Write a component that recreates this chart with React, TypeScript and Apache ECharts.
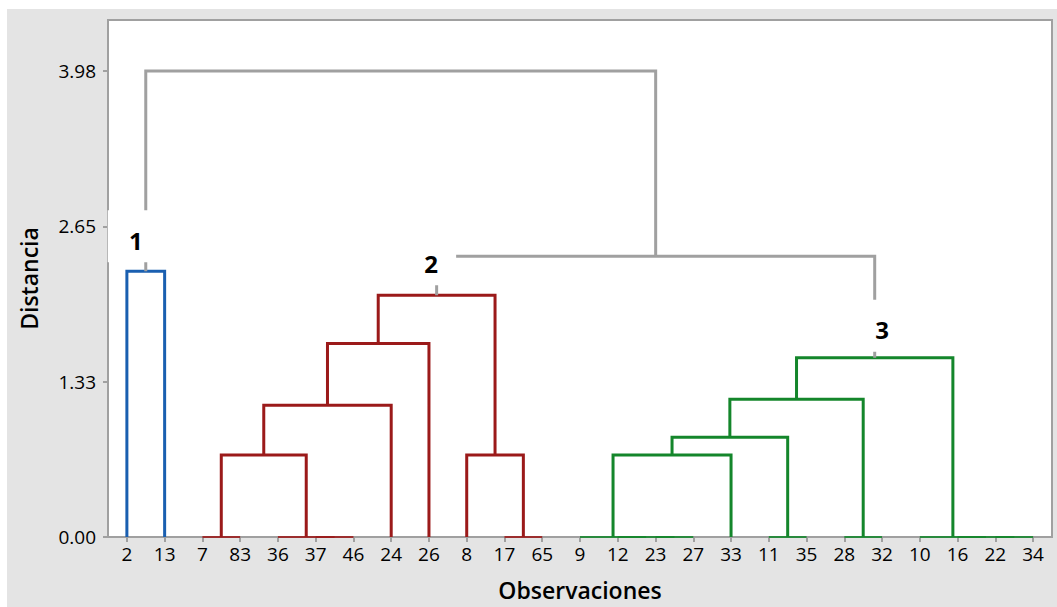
import React, { useEffect, useRef } from "react";
import * as echarts from "echarts";

// Leaves (observations) in dendrogram order
const leaves = ["2", "13", "7", "83", "36", "37", "46", "24", "26", "8", "17", "65", "9", "12", "23", "27", "33", "11", "35", "28", "32", "10", "16", "22", "34"];

// Merges: node ids < 25 are leaves (index into leaves), ids >= 25 are merges in creation order
const mergeLeft = [0, 2, 5, 4, 26, 29, 30, 10, 9, 31, 14, 13, 12, 37, 17, 38, 19, 40, 23, 22, 21, 42, 34, 25];
const mergeRight = [1, 3, 6, 27, 28, 7, 8, 11, 32, 33, 15, 35, 36, 16, 18, 39, 20, 41, 24, 43, 44, 45, 46, 47];
const mergeHeight = [2.27, 0, 0, 0, 0.7, 1.126, 1.652, 0, 0.7, 2.064, 0, 0, 0, 0.7, 0, 0.851, 0, 1.177, 0, 0, 0, 1.53, 2.398, 3.98];
// 0 = gray link, 1 = cluster 1, 2 = cluster 2, 3 = cluster 3
const mergeCluster = [1, 2, 2, 2, 2, 2, 2, 2, 2, 2, 3, 3, 3, 3, 3, 3, 3, 3, 3, 3, 3, 3, 0, 0];

// Cluster labels and the nodes they sit on
const clusterLabels = ["1", "2", "3"];
const clusterNodes = [25, 34, 46];

const yTickValues = [0, 3.98 / 3, (2 * 3.98) / 3, 3.98];
const yTickLabels = ["0.00", "1.33", "2.65", "3.98"];

const COLORS = ["#a0a0a0", "#1a5fb0", "#9b1a1a", "#14862b"];
const LABEL_OFFSETS = [[-10, -31], [-5.5, -32], [7.4, -28]];

export default function App() {
  const ref = useRef<HTMLDivElement>(null);
  useEffect(() => {
    if (!ref.current) return;
    const chart = echarts.init(ref.current, undefined, { renderer: "svg" });

    const nodeX: number[] = leaves.map((_, i) => i);
    const nodeH: number[] = leaves.map(() => 0);
    mergeLeft.forEach((l, i) => {
      const r = mergeRight[i];
      nodeX.push((nodeX[l] + nodeX[r]) / 2);
      nodeH.push(mergeHeight[i]);
    });

    const linkData = mergeLeft.map((l, i) => {
      const r = mergeRight[i];
      return [nodeX[l], nodeX[r], nodeH[l], nodeH[r], mergeHeight[i], mergeCluster[i]];
    });
    const labelData = clusterNodes.map((n, i) => [nodeX[n], nodeH[n], i]);

    chart.setOption({
      animation: false,
      backgroundColor: "#e4e4e4",
      grid: {
        left: 101,
        right: 5,
        top: 11,
        bottom: 70,
        outerBoundsMode: "none",
        containLabel: false,
        show: true,
        backgroundColor: "#ffffff",
        borderColor: "#a0a0a0",
        borderWidth: 2,
      },
      xAxis: [
        {
          type: "category",
          data: leaves,
          boundaryGap: true,
          axisLine: { show: true, lineStyle: { color: "#a0a0a0", width: 2 } },
          axisTick: { show: true, alignWithLabel: true, length: 5, lineStyle: { color: "#a0a0a0", width: 2 } },
          axisLabel: { interval: 0, fontSize: 19, color: "#000", margin: 7, fontFamily: "Open Sans" },
          splitLine: { show: false },
          name: "Observaciones",
          nameLocation: "middle",
          nameGap: 41,
          nameTextStyle: { fontSize: 23, fontWeight: 600, color: "#000", fontFamily: "Open Sans" },
        },
        {
          type: "value",
          min: -0.5,
          max: leaves.length - 0.5,
          show: false,
        },
      ],
      yAxis: {
        type: "value",
        min: 0,
        max: 4.415,
        axisLine: { show: true, onZero: false, lineStyle: { color: "#a0a0a0", width: 2 } },
        axisTick: { show: true, length: 5, customValues: yTickValues, lineStyle: { color: "#a0a0a0", width: 2 } },
        axisLabel: {
          fontSize: 19,
          color: "#000",
          margin: 12,
          fontFamily: "Open Sans",
          customValues: yTickValues,
          formatter: (v: number) => {
            let best = 0;
            yTickValues.forEach((t, i) => { if (Math.abs(t - v) < Math.abs(yTickValues[best] - v)) best = i; });
            return yTickLabels[best];
          },
        },
        splitLine: { show: false },
        name: "Distancia",
        nameLocation: "middle",
        nameGap: 68,
        nameTextStyle: { fontSize: 23, fontWeight: 600, color: "#000", fontFamily: "Open Sans" },
      },
      series: [
        {
          type: "custom",
          xAxisIndex: 1,
          yAxisIndex: 0,
          z: 2,
          data: linkData,
          renderItem: (params: any, api: any) => {
            const xl = api.value(0), xr = api.value(1), hl = api.value(2), hr = api.value(3), h = api.value(4), c = api.value(5);
            const pts = [api.coord([xl, hl]), api.coord([xl, h]), api.coord([xr, h]), api.coord([xr, hr])];
            return {
              type: "polyline",
              shape: { points: pts },
              style: { stroke: COLORS[c], lineWidth: h === 0 ? 2 : 3, fill: null, lineJoin: "miter", opacity: h === 0 ? 0.85 : 1 },
            };
          },
        },
        {
          type: "custom",
          xAxisIndex: 1,
          yAxisIndex: 0,
          z: 5,
          data: labelData,
          renderItem: (params: any, api: any) => {
            const p = api.coord([api.value(0), api.value(1)]);
            const i = api.value(2);
            const tx = p[0] + LABEL_OFFSETS[i][0];
            const ty = p[1] + LABEL_OFFSETS[i][1];
            return {
              type: "group",
              children: [
                { type: "rect", shape: { x: tx - 28, y: ty - 30, width: 53, height: 52 }, style: { fill: "#ffffff" } },
                {
                  type: "text",
                  style: {
                    text: clusterLabels[i],
                    x: tx,
                    y: ty,
                    align: "center",
                    verticalAlign: "middle",
                    fontSize: 24,
                    fontWeight: "bold",
                    fontFamily: "Open Sans",
                    fill: "#000",
                  },
                },
              ],
            };
          },
        },
      ],
    });
    return () => chart.dispose();
  }, []);
  return <div ref={ref} style={{ position: "fixed", left: 7, top: 9, width: 1050, height: 598 }} />;
}
